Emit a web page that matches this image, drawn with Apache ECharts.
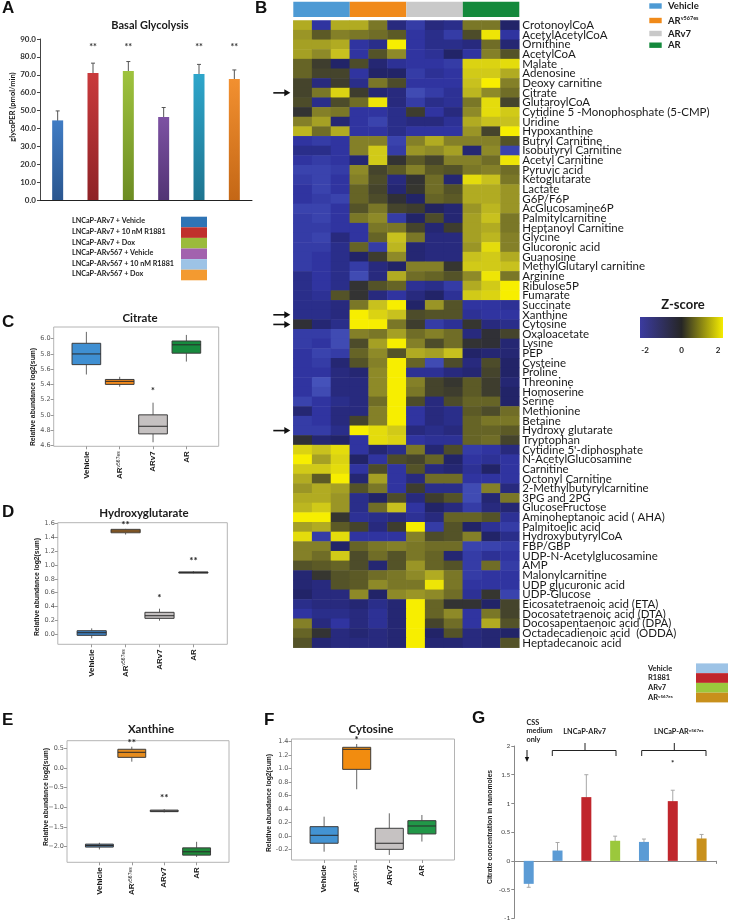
<!DOCTYPE html>
<html><head><meta charset="utf-8">
<script src="https://cdn.jsdelivr.net/npm/echarts@6/dist/echarts.min.js"></script>
<style>html,body{margin:0;padding:0;background:#fff}#c{width:729px;height:922px}</style>
</head><body><div id="c"></div><script>
// ===== Panel A : Basal glycolysis =====
const aCats = ['LNCaP-ARv7 + Vehicle','LNCaP-ARv7 + 10 nM R1881','LNCaP-ARv7 + Dox','LNCaP-ARv567 + Vehicle','LNCaP-ARv567 + 10 nM R1881','LNCaP-ARv567 + Dox'];
const aValues = [44.5, 71.0, 72.1, 46.4, 70.5, 67.6];
const aErrors = [5.3, 5.5, 5.3, 5.3, 5.3, 5.1];
const aStars = ['', '**', '**', '', '**', '**'];
const aStarLevel = 85.5;

// ===== Panel B : heatmap =====
const groups = ['Vehicle', 'ARv567es', 'ARv7', 'AR'];
const samples = ['V1','V2','V3','E1','E2','E3','R1','R2','R3','A1','A2','A3'];
const metabolites = ['CrotonoylCoA','AcetylAcetylCoA','Ornithine','AcetylCoA','Malate','Adenosine','Deoxy carnitine','Citrate','GlutaroylCoA','Cytidine 5 -Monophosphate (5-CMP)','Uridine','Hypoxanthine','Butryl Carnitine','Isobutyryl Carnitine','Acetyl Carnitine','Pyruvic acid','Ketoglutarate','Lactate','G6P/F6P','AcGlucosamine6P','Palmitylcarnitine','Heptanoyl Carnitine','Glycine','Glucoronic acid','Guanosine','MethylGlutaryl carnitine','Arginine','Ribulose5P','Fumarate','Succinate','Xanthine','Cytosine','Oxaloacetate','Lysine','PEP','Cysteine','Proline','Threonine','Homoserine','Serine','Methionine','Betaine','Hydroxy glutarate','Tryptophan',"Cytidine 5'-diphosphate",'N-AcetylGlucosamine','Carnitine','Octonyl Carnitine','2-Methylbutyrylcarnitine','3PG and 2PG','GlucoseFructose','Aminoheptanoic acid ( AHA)','Palmitoelic acid','HydroxybutyrylCoA','FBP/GBP','UDP-N-Acetylglucosamine','AMP','Malonylcarnitine','UDP glucuronic acid','UDP-Glucose','Eicosatetraenoic acid (ETA)','Docosatetraenoic acid (DTA)','Docosapentaenoic acid (DPA)','Octadecadienoic acid  (ODDA)','Heptadecanoic acid'];
const zRows = [
[1.3,-1.5,1.3,1.3,0.8,-1.2,-1.6,-1.2,-1.3,0.8,0.8,-1.0],
[1.1,0.5,0.9,0.8,0.7,0.5,-1.5,-1.3,-1.6,0.3,1.9,-1.5],
[1.2,1.2,1.3,-1.5,-1.3,2.0,-1.5,-1.3,-1.3,-1.2,0.7,-1.1],
[1.2,1.0,1.5,-1.5,0.4,1.0,-1.5,-1.4,-1.0,-1.5,0.9,0.4],
[0.6,0.1,-1.0,0.3,-1.1,-1.4,-1.5,-1.5,-1.6,1.7,1.7,1.8],
[0.6,0.2,0.2,-1.5,-1.0,-1.0,-1.6,-1.4,-1.5,1.6,1.6,1.3],
[0.2,-1.2,0.1,-1.3,0.8,0.3,-1.5,-1.5,-1.5,1.5,2.0,0.9],
[0.2,0.8,1.7,0.1,-1.1,-1.2,-1.8,-1.6,-1.4,1.4,1.0,0.7],
[0.3,-1.3,0.3,0.7,1.9,-1.2,-1.6,-1.3,-1.4,0.8,1.8,0.2],
[-0.1,0.9,0.8,-1.5,-1.5,-1.3,0.1,-1.5,-1.2,1.0,1.8,1.6],
[0.9,1.2,-1.1,-1.5,-1.7,-1.3,-1.2,-1.2,-1.4,1.3,1.5,1.5],
[1.4,0.7,1.3,-1.5,-1.5,-1.3,-1.5,-1.5,-1.5,1.1,0.2,2.0],
[-1.5,-1.6,-1.5,0.9,0.9,-1.7,0.9,1.3,0.9,0.9,0.9,0.4],
[-1.3,-1.3,-1.5,0.9,1.6,-1.6,1.1,1.0,1.2,-1.1,1.0,-1.7],
[-1.5,-1.6,-1.5,-1.1,1.6,-0.1,0.5,0.2,0.9,0.9,0.7,1.9],
[-1.7,-1.7,-1.6,1.0,0.2,0.5,0.9,0.5,0.4,0.8,0.9,0.7],
[-1.6,-1.7,-1.5,0.9,0.3,-1.2,-0.1,0.7,-1.1,1.8,1.5,0.8],
[-1.5,-1.7,-1.5,0.6,0.2,-1.1,0.0,0.7,0.4,1.3,1.3,1.1],
[-1.5,-1.6,-1.7,0.6,0.3,-0.2,-1.0,0.6,0.5,1.3,1.3,1.1],
[-1.7,-1.7,-1.5,0.4,0.8,0.2,0.1,-0.9,-1.1,1.1,1.4,1.1],
[-1.6,-1.7,-1.5,0.8,1.0,-1.6,-1.0,0.3,-1.1,1.2,1.5,0.8],
[-1.6,-1.6,-1.5,-1.5,0.8,0.8,0.2,-1.1,0.1,1.2,1.3,0.8],
[-1.6,-1.7,-1.2,-1.5,0.6,1.5,0.8,-1.2,-1.2,1.2,1.4,0.9],
[-1.6,-1.6,-1.3,0.6,-1.6,1.4,-1.1,-1.2,-1.2,1.1,1.8,0.9],
[-1.6,-1.5,-1.3,-1.0,0.1,1.0,-1.1,-1.2,-1.2,1.5,1.6,1.3],
[-1.6,-1.5,-1.3,-1.6,-1.2,-1.0,0.9,0.9,0.0,1.6,1.6,1.5],
[-1.3,-1.5,-1.3,-1.8,-1.2,1.3,0.7,0.6,0.4,1.0,1.9,0.8],
[-1.3,-1.5,-1.3,-0.1,0.4,0.6,-1.4,-1.3,-1.6,1.3,1.6,2.0],
[-1.3,-1.4,0.4,-0.1,-1.2,-1.5,-1.2,-1.0,-1.4,1.6,1.7,2.0],
[-1.3,-1.3,-1.2,0.8,1.5,2.0,-1.0,1.1,0.4,-1.5,-1.5,-1.4],
[-1.3,-1.3,-1.2,2.0,1.7,1.5,0.3,0.4,0.4,-1.4,-1.5,-1.5],
[-0.2,-1.1,-1.3,2.0,2.0,0.8,0.1,-1.6,-1.4,0.0,-1.2,-1.3],
[-1.6,-1.6,-1.8,0.9,0.8,1.2,0.7,0.9,0.7,-1.2,-0.2,0.2],
[-1.6,-1.5,-1.8,0.3,1.2,2.0,0.9,0.3,0.7,-0.1,-0.2,-1.1],
[-1.5,-1.7,-1.6,0.6,1.0,0.4,1.3,1.2,1.5,-1.0,-1.1,-1.1],
[-1.5,-1.6,-1.1,0.4,0.9,2.0,0.6,-1.8,0.3,-1.2,0.3,-1.0],
[-1.5,-1.5,-1.2,-1.1,1.0,2.0,-1.4,-1.4,-1.2,-1.1,0.2,-1.0],
[-1.5,-1.9,-1.2,-1.2,1.0,2.0,0.9,0.2,0.0,0.5,0.1,-1.1],
[-1.5,-1.8,-1.2,-1.2,1.0,2.0,0.8,0.2,0.1,0.5,0.1,-1.0],
[-1.7,-1.5,-1.3,-1.2,0.7,2.0,0.3,-1.2,0.3,0.6,0.6,-1.0],
[-1.1,-1.5,-1.2,-1.2,0.9,2.0,-1.5,-1.2,-1.3,0.5,0.3,0.7],
[-1.6,-1.5,-1.2,0.2,0.9,2.0,-1.5,-1.2,-1.3,0.6,0.8,0.8],
[-1.6,-1.6,-1.3,2.0,1.8,1.6,-1.2,-1.3,-1.2,0.6,0.6,0.5],
[-0.2,-1.1,-1.0,-1.5,1.8,1.7,-1.5,-1.4,-1.4,0.6,0.7,0.2],
[1.7,1.5,1.8,-1.5,-1.1,-1.3,0.8,-1.1,0.3,-1.6,-1.5,-1.2],
[2.0,1.2,1.7,-1.0,-1.5,0.3,0.2,0.6,-1.0,-1.5,-1.4,-1.5],
[1.6,1.6,1.8,-1.5,0.3,-1.5,0.4,-1.2,-1.1,-1.4,-1.0,-1.5],
[1.3,0.5,2.0,-1.1,1.2,-1.5,-1.2,0.7,0.7,-1.5,-1.5,-1.5],
[1.1,1.3,1.2,0.4,0.8,-1.5,0.1,-1.3,-1.3,-1.8,0.9,-1.2],
[1.3,1.3,1.1,-1.3,-1.0,0.3,-1.2,0.1,0.4,-1.8,-1.1,0.8],
[1.4,1.6,1.1,-1.3,0.7,1.5,-1.5,-1.0,-1.2,-1.6,-1.2,-1.1],
[2.0,2.0,0.0,-1.4,-1.3,-1.2,-1.4,-1.2,0.6,0.6,0.4,-1.4],
[1.2,1.3,0.5,0.2,-1.2,0.1,2.0,-1.6,0.4,-1.0,-1.4,-1.6],
[1.8,-1.6,1.8,-1.5,-1.5,-1.5,0.9,0.3,0.4,0.9,-1.0,-1.3],
[0.9,0.9,-1.0,0.6,0.8,0.9,0.8,0.7,0.7,-1.7,-1.7,-1.6],
[0.9,0.7,1.6,0.3,0.7,0.4,0.8,0.6,-1.1,-1.6,-1.4,-1.5],
[0.4,0.5,0.6,0.3,-1.1,0.4,1.1,0.6,0.4,-1.6,0.7,-1.6],
[-1.1,0.0,0.4,0.5,0.7,0.8,1.0,1.3,0.8,-1.6,-1.5,-1.5],
[-1.1,-1.2,0.4,0.5,1.0,0.8,0.8,1.9,0.8,-1.5,-1.5,-1.5],
[-1.0,-1.2,-1.2,1.0,-1.0,1.0,1.1,1.0,0.7,-1.4,0.0,-1.7],
[-1.3,-1.2,-1.2,-1.1,-1.3,-1.1,2.0,0.6,-0.1,-0.1,-1.0,0.2],
[-1.5,-1.3,-1.3,-1.2,-1.4,-1.1,2.0,0.6,1.0,-1.5,0.8,0.2],
[0.9,-1.2,-1.5,-1.2,-1.4,-1.1,2.0,0.2,0.7,-1.5,1.3,0.4],
[0.6,-0.1,-1.2,-1.1,-1.2,-1.1,2.0,-1.0,0.4,-1.2,-1.1,-1.0],
[0.4,-1.1,-1.2,-1.2,-1.2,-1.1,2.0,-1.1,-1.1,-1.2,-1.1,0.4]
];
const arrowRows = [7, 30, 31, 42];
const zLegendTicks = [-2, 0, 2];

// ===== Box panels C-F : [x, whiskerLow, Q1, median, Q3, whiskerHigh] =====
const boxCats = ['Vehicle', 'ARv567es', 'ARv7', 'AR'];
const citrateBoxes = [[0,5.53,5.66,5.80,5.94,6.09],[1,5.37,5.40,5.44,5.465,5.50],[2,4.64,4.75,4.85,5.00,5.16],[3,5.70,5.81,5.92,5.97,6.05]];
const citrateStars = [[2,5.315,'*']];
const citrateTicks = [4.6,4.8,5.0,5.2,5.4,5.6,5.8,6.0];
const hgBoxes = [[0,-0.058,-0.015,0.023,0.052,0.086],[1,1.438,1.464,1.489,1.513,1.52],[2,0.196,0.23,0.268,0.317,0.369],[3,0.88,0.893,0.895,0.897,0.91]];
const hgStars = [[1,1.575,'**'],[2,0.53,'*'],[3,1.056,'**']];
const hgTicks = [0,0.2,0.4,0.6,0.8,1.0,1.2,1.4,1.6];
const xanBoxes = [[0,-2.07,-2.01,-1.97,-1.935,-1.90],[1,0.16,0.27,0.398,0.475,0.54],[2,-1.13,-1.11,-1.095,-1.07,-1.045],[3,-2.26,-2.215,-2.13,-2.03,-1.876]];
const xanStars = [[1,0.64,'**'],[2,-0.747,'**']];
const xanTicks = [-2.0,-1.5,-1.0,-0.5,0.0,0.5];
const cytBoxes = [[0,-0.23,-0.105,0.013,0.141,0.289],[1,0.695,0.99,1.287,1.317,1.366],[2,-0.278,-0.195,-0.105,0.117,0.339],[3,-0.08,0.033,0.151,0.23,0.314]];
const cytStars = [[1,1.425,'*']];
const cytTicks = [-0.2,0.0,0.2,0.4,0.6,0.8,1.0,1.2,1.4];

// ===== Panel G : citrate concentration =====
const gCats = ['CSS medium only','LNCaP-ARv7 Vehicle','LNCaP-ARv7 R1881','LNCaP-ARv7 Dox','LNCaP-ARv567es Vehicle','LNCaP-ARv567es R1881','LNCaP-ARv567es Dox'];
const gValues = [-0.40, 0.18, 1.11, 0.35, 0.33, 1.04, 0.39];
const gErrors = [0.06, 0.14, 0.39, 0.08, 0.05, 0.19, 0.07];
const gStars = [[5, 1.69, '*']];
const gLegend = ['Vehicle', 'R1881', 'ARv7', 'ARv567es'];

// ---------------- styles ----------------
const FONT = 'Lato';
const aBarTop = ['#407cc4','#c93a3c','#9fc33e','#7d52a3','#2ea6cb','#f29030'];
const aBarBot = ['#2a568f','#8e2226','#6c8c23','#523374','#1e7590','#c46716'];
const aLegendColors = ['#2f74b5','#c0302c','#9bbb3b','#a262ae','#9dc3e6','#f39a30'];
const groupColors = ['#4d9ad4','#f08a1a','#c9c9c9','#14893c'];
const heatColors = ['#4a5ac0','#3034a0','#222468','#262640','#363630','#5c5a26','#8e8a28','#c8c11e','#f7ee00'];
const gColors = ['#5b9bd5','#5b9bd5','#c0262c','#9bc83c','#5b9bd5','#c0262c','#c8901c'];
const gLegendColors = ['#9dc3e6','#c0262c','#9bc83c','#c8901c'];
const boxColorsC = ['#3f8fd2','#f28a1d','#c5c1c1','#178a3e'];
const boxColorsD = ['#3b7fc0','#cf7f22','#c2bebe','#3c3c3c'];
const boxColorsE = ['#4f7ea8','#e68c1e','#c2bebe','#1f8a3a'];
const boxColorsF = ['#4393d3','#f28c0f','#c6c2c2','#219748'];

const chart = echarts.init(document.getElementById('c'), null, {renderer:'canvas', width:729, height:922});

function boxRender(colors){
  return function(params, api){
    const x = api.value(0), lo = api.value(1), q1 = api.value(2), md = api.value(3), q3 = api.value(4), hi = api.value(5);
    const w = api.size([0.86, 0])[0];
    const pLo = api.coord([x, lo]), pQ1 = api.coord([x, q1]), pMd = api.coord([x, md]), pQ3 = api.coord([x, q3]), pHi = api.coord([x, hi]);
    const cx = pMd[0];
    return {type:'group', children:[
      {type:'line', shape:{x1:cx, y1:pHi[1], x2:cx, y2:pQ3[1]}, style:{stroke:'#666', lineWidth:1}},
      {type:'line', shape:{x1:cx, y1:pQ1[1], x2:cx, y2:pLo[1]}, style:{stroke:'#666', lineWidth:1}},
      {type:'rect', shape:{x:cx - w/2, y:pQ3[1], width:w, height:Math.max(pQ1[1] - pQ3[1], 1)}, style:{fill:colors[params.dataIndex], stroke:'#3c3c3c', lineWidth:1}},
      {type:'line', shape:{x1:cx - w/2, y1:pMd[1], x2:cx + w/2, y2:pMd[1]}, style:{stroke:'#2a2a2a', lineWidth:1}}
    ]};
  };
}
function starRender(list, font){
  return function(params, api){
    const p = api.coord([api.value(0), api.value(1)]);
    return {type:'text', x:p[0], y:p[1], style:{text:list[params.dataIndex][2], font:font, fill:'#222', align:'center', verticalAlign:'middle'}};
  };
}
function errRender(cap, color){
  return function(params, api){
    const i = api.value(0), v = api.value(1), e = api.value(2);
    const t = api.coord([i, v + e]), b = api.coord([i, v - e]);
    const x = t[0];
    return {type:'group', children:[
      {type:'line', shape:{x1:x, y1:t[1], x2:x, y2:b[1]}, style:{stroke:color, lineWidth:1}},
      {type:'line', shape:{x1:x - cap, y1:t[1], x2:x + cap, y2:t[1]}, style:{stroke:color, lineWidth:1}},
      {type:'line', shape:{x1:x - cap, y1:b[1], x2:x + cap, y2:b[1]}, style:{stroke:color, lineWidth:1}}
    ]};
  };
}

const richCat = {b:{fontSize:8, fontWeight:'bold', fontFamily:'Liberation Sans', color:'#1a1a1a'}, s:{fontSize:5, fontFamily:'Liberation Sans', color:'#1a1a1a', verticalAlign:'top'}};
function boxXAxis(grid, min, max){
  return {gridIndex:grid, type:'value', min:min, max:max, position:'bottom',
    axisLine:{show:false, onZero:false}, splitLine:{show:false},
    axisTick:{show:true, length:3, lineStyle:{color:'#999'}, customValues:[0,1,2,3]},
    axisLabel:{rotate:90, margin:5, customValues:[0,1,2,3], rich:richCat,
      formatter:function(v){ const n = boxCats[Math.round(v)]; return n === 'ARv567es' ? '{b|AR}{s|v567es}' : '{b|' + n + '}'; }}};
}
function boxYAxis(grid, min, max, ticks, minusSign){
  return {gridIndex:grid, type:'value', min:min, max:max, position:'left',
    axisLine:{show:false, onZero:false}, splitLine:{show:false},
    axisTick:{show:true, length:3, lineStyle:{color:'#999'}, customValues:ticks},
    axisLabel:{customValues:ticks, fontSize:6.5, color:'#555', fontFamily:'DejaVu Sans', margin:3,
      formatter:function(v){ const s = v.toFixed(1); return minusSign ? s.replace('-', '\u2212') : s; }}};
}
const boxGrid = (l, t, w, h) => ({left:l, top:t, width:w, height:h, show:true, borderColor:'#b4b4b4', borderWidth:1, backgroundColor:'transparent'});

const grids = [
  {left:40, top:39, width:212, height:161},          // A
  {left:293.3, top:1.7, width:226, height:15.3},     // B header
  {left:293.3, top:20.5, width:226, height:627.2},   // B heatmap
  boxGrid(53.7, 327, 165, 119.3),                    // C
  boxGrid(57.8, 522.7, 169.5, 121.6),                // D
  boxGrid(67, 740.7, 162, 121.6),                    // E
  boxGrid(291.5, 739, 163, 121),                     // F
  {left:514.3, top:746, width:201.7, height:172.3}   // G
];

const xAxes = [
  {gridIndex:0, type:'category', data:aCats, axisLabel:{show:false}, axisTick:{show:false}, axisLine:{lineStyle:{color:'#222'}}},
  {gridIndex:1, type:'category', data:groups, show:false},
  {gridIndex:2, type:'category', data:samples, show:false},
  boxXAxis(3, -0.98, 3.97),
  boxXAxis(4, -1, 4),
  boxXAxis(5, -1, 4),
  boxXAxis(6, -1, 4),
  {gridIndex:7, type:'category', data:gCats, axisLabel:{show:false}, axisTick:{show:true, length:3, lineStyle:{color:'#888'}}, axisLine:{onZero:true, lineStyle:{color:'#888'}}}
];
const yAxes = [
  {gridIndex:0, type:'value', min:0, max:90, interval:10, splitLine:{show:false},
    axisLine:{show:true, lineStyle:{color:'#444'}}, axisTick:{show:true, length:3, lineStyle:{color:'#444'}},
    axisLabel:{formatter:v => v.toFixed(1), fontSize:8, fontWeight:'bold', fontFamily:FONT, color:'#333', margin:4}},
  {gridIndex:1, type:'value', min:0, max:1, show:false},
  {gridIndex:2, type:'category', data:metabolites, inverse:true, position:'right',
    axisLine:{show:false}, axisTick:{show:false},
    axisLabel:{interval:0, fontSize:11.5, fontFamily:FONT, color:'#1a1a1a', margin:3}},
  boxYAxis(3, 4.587, 6.154, citrateTicks, false),
  boxYAxis(4, -0.144, 1.609, hgTicks, false),
  boxYAxis(5, -2.397, 0.693, xanTicks, true),
  boxYAxis(6, -0.353, 1.44, cytTicks, false),
  {gridIndex:7, type:'value', min:-1, max:2, interval:0.5, splitLine:{show:false},
    axisLine:{show:true, lineStyle:{color:'#888'}}, axisTick:{show:true, length:3, lineStyle:{color:'#888'}},
    axisLabel:{fontSize:6.5, fontFamily:FONT, color:'#444', margin:4}}
];

const heatData = [];
zRows.forEach((row, r) => row.forEach((v, c) => heatData.push([c, r, v])));

const series = [];
// A
series.push({type:'bar', xAxisIndex:0, yAxisIndex:0, barWidth:11, silent:true,
  data:aValues.map((v, i) => ({value:v, itemStyle:{color:new echarts.graphic.LinearGradient(0,0,0,1,[{offset:0,color:aBarTop[i]},{offset:1,color:aBarBot[i]}])}}))});
series.push({type:'custom', xAxisIndex:0, yAxisIndex:0, silent:true, renderItem:errRender(2, '#555'),
  data:aValues.map((v, i) => [i, v, aErrors[i]])});
series.push({type:'custom', xAxisIndex:0, yAxisIndex:0, silent:true,
  renderItem:function(params, api){ const p = api.coord([api.value(0), api.value(1)]);
    return {type:'text', x:p[0], y:p[1], style:{text:aStars[params.dataIndex], font:'bold 9px Lato', fill:'#333', align:'center', verticalAlign:'middle'}}; },
  data:aValues.map((v, i) => [i, aStarLevel])});
// B header
series.push({type:'bar', xAxisIndex:1, yAxisIndex:1, barWidth:'100%', silent:true,
  data:groups.map((g, i) => ({value:1, itemStyle:{color:groupColors[i]}}))});
// B heatmap
const heatIndex = series.length;
series.push({type:'heatmap', xAxisIndex:2, yAxisIndex:2, data:heatData, progressive:0, silent:true, itemStyle:{borderWidth:0}});
series.push({type:'custom', xAxisIndex:2, yAxisIndex:2, silent:true, clip:false,
  renderItem:function(params, api){ const p = api.coord([0, api.value(1)]); const w = api.size([1, 0])[0];
    const tip = p[0] - w/2 - 3, tail = tip - 17, y = p[1];
    return {type:'group', children:[
      {type:'line', shape:{x1:tail, y1:y, x2:tip - 4, y2:y}, style:{stroke:'#111', lineWidth:1.6}},
      {type:'polygon', shape:{points:[[tip, y], [tip - 6, y - 3.5], [tip - 6, y + 3.5]]}, style:{fill:'#111'}}
    ]}; },
  data:arrowRows.map(r => [0, r])});
// C-F
const panels = [[3, citrateBoxes, citrateStars, boxColorsC, 'bold 9px Lato'], [4, hgBoxes, hgStars, boxColorsD, 'bold 10px Lato'], [5, xanBoxes, xanStars, boxColorsE, 'bold 10px Lato'], [6, cytBoxes, cytStars, boxColorsF, 'bold 10px Lato']];
panels.forEach(([ax, boxes, stars, colors, sf]) => {
  series.push({type:'custom', xAxisIndex:ax, yAxisIndex:ax, silent:true, renderItem:boxRender(colors), encode:{x:0, y:[1,2,3,4,5]}, data:boxes});
  series.push({type:'custom', xAxisIndex:ax, yAxisIndex:ax, silent:true, renderItem:starRender(stars, sf), encode:{x:0, y:1}, data:stars.map(s => [s[0], s[1]])});
});
// G
series.push({type:'bar', xAxisIndex:7, yAxisIndex:7, barWidth:10, silent:true,
  data:gValues.map((v, i) => ({value:v, itemStyle:{color:gColors[i]}}))});
series.push({type:'custom', xAxisIndex:7, yAxisIndex:7, silent:true, renderItem:errRender(2, '#a8a8a8'),
  data:gValues.map((v, i) => [i, v, gErrors[i]])});
series.push({type:'custom', xAxisIndex:7, yAxisIndex:7, silent:true, renderItem:starRender(gStars, 'bold 8px Lato'), data:gStars.map(s => [s[0], s[1]])});

// ---------------- annotations ----------------
const G = [];
const txt = (x, y, text, font, extra) => G.push(Object.assign({type:'text', x:x, y:y, silent:true, style:Object.assign({text:text, font:font, fill:'#1a1a1a', align:'left', verticalAlign:'middle'}, (extra && extra.style) || {})}, (extra && extra.el) || {}));
const rect = (x, y, w, h, fill) => G.push({type:'rect', silent:true, shape:{x:x, y:y, width:w, height:h}, style:{fill:fill}});
const poly = (pts, stroke, lw) => G.push({type:'polyline', silent:true, shape:{points:pts}, style:{stroke:stroke, lineWidth:lw || 1, fill:null}});
const LET = 'bold 17px "Liberation Sans"';
[['A',2,0],['B',255,0],['C',2,314],['D',2,504],['E',2,712],['F',264,712],['G',472,710]].forEach(([t, x, y]) => txt(x, y, t, LET, {style:{verticalAlign:'top', fill:'#111'}}));
// titles
txt(150, 25, 'Basal Glycolysis', 'bold 11px Lato', {style:{align:'center'}});
txt(140, 318, 'Citrate', 'bold 11.5px Lato', {style:{align:'center'}});
txt(144, 513, 'Hydroxyglutarate', 'bold 11.5px Lato', {style:{align:'center'}});
txt(151, 729, 'Xanthine', 'bold 11.5px Lato', {style:{align:'center'}});
txt(371, 729, 'Cytosine', 'bold 11.5px Lato', {style:{align:'center'}});
// y titles
const ytitle = (x, y, t) => txt(x, y, t, 'bold 6.8px "Liberation Sans"', {style:{align:'center'}, el:{rotation:Math.PI/2}});
txt(12.7, 107, 'glycoPER (pmol/min)', 'bold 7.5px Lato', {style:{align:'center'}, el:{rotation:Math.PI/2}});
ytitle(33, 397, 'Relative abundance log2(sum)');
ytitle(37, 587, 'Relative abundance log2(sum)');
ytitle(46, 797, 'Relative abundance log2(sum)');
ytitle(269, 803, 'Relative abundance log2(sum)');
ytitle(490, 827, 'Citrate concentration in nanomoles');
// A legend
aCats.forEach((c, i) => { txt(72, 221 + i * 10.6, c, 'bold 7.2px Lato'); rect(181, 216.7 + i * 10.6, 26, 10.6, aLegendColors[i]); });
// B group legend
const supRich = (big, small) => ({a:{font:big, fill:'#1a1a1a'}, s:{font:small, fill:'#1a1a1a', verticalAlign:'top'}});
const bLeg = [['Vehicle', 6], ['{a|AR}{s|v567es}', 20.5], ['ARv7', 33.5], ['AR', 45.2]];
bLeg.forEach(([t, y], i) => {
  rect(649.3, y - 2.7, 12.4, 5.4, groupColors[i]);
  if (i === 1) txt(668, y, t, 'bold 9.5px Lato', {style:{rich:supRich('bold 9.5px Lato', 'bold 5.5px Lato')}});
  else txt(668, y, t, 'bold 9.5px Lato');
});
// Z-score legend
txt(683, 305, 'Z-score', 'bold 13px Lato', {style:{align:'center'}});
G.push({type:'rect', silent:true, shape:{x:640, y:317, width:83, height:21},
  style:{fill:new echarts.graphic.LinearGradient(0,0,1,0,[{offset:0,color:'#3b3ba0'},{offset:0.5,color:'#262626'},{offset:1,color:'#f5ec00'}])}});
const zx = v => 645 + (v + 2) / 4 * 73;
zLegendTicks.forEach(v => txt(zx(v), 350, String(v), 'bold 8px Lato', {style:{align:'center'}}));
// G legend
gLegend.forEach((t, i) => {
  const y = 668.3 + i * 9.75;
  rect(696, 663.4 + i * 9.75, 32, 9.75, gLegendColors[i]);
  if (i === 3) txt(648, y, '{a|AR}{s|v567es}', 'bold 7.5px Lato', {style:{rich:supRich('bold 7.5px Lato', 'bold 4.5px Lato')}});
  else txt(648, y, t, 'bold 7.5px Lato');
});
// G annotations
txt(526.5, 722.7, 'CSS', 'bold 7.3px Lato');
txt(526.5, 731, 'medium', 'bold 7.3px Lato');
txt(526.5, 739.3, 'only', 'bold 7.3px Lato');
poly([[527, 750], [527, 759]], '#111', 1);
G.push({type:'polygon', silent:true, shape:{points:[[527, 762], [524.8, 757], [529.2, 757]]}, style:{fill:'#111'}});
txt(563.3, 731.7, 'LNCaP-ARv7', 'bold 7.3px Lato');
txt(654, 731.7, '{a|LNCaP-AR}{s|v567es}', 'bold 7.3px Lato', {style:{rich:supRich('bold 7.3px Lato', 'bold 4.5px Lato')}});
poly([[552.3, 756], [552.3, 750.5], [616, 750.5], [616, 756]], '#222', 1);
poly([[585, 750.5], [585, 743]], '#222', 1);
poly([[641.7, 756], [641.7, 750.5], [706, 750.5], [706, 756]], '#222', 1);
poly([[674.3, 750.5], [674.3, 743]], '#222', 1);

chart.setOption({
  animation:false,
  backgroundColor:'#ffffff',
  grid:grids,
  xAxis:xAxes,
  yAxis:yAxes,
  visualMap:[{type:'continuous', min:-2, max:2, show:false, seriesIndex:heatIndex, inRange:{color:heatColors}}],
  series:series,
  graphic:G
});
</script></body></html>
